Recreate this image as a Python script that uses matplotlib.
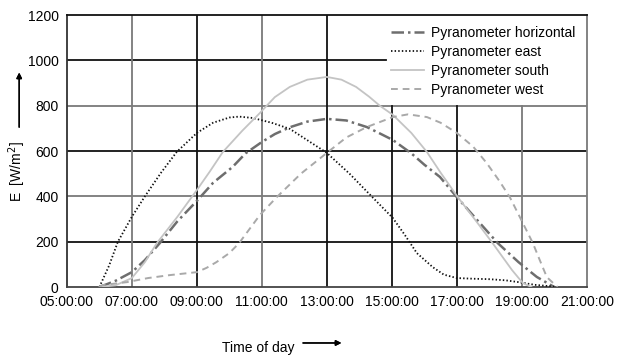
import matplotlib.pyplot as plt
from matplotlib.patches import Rectangle

plt.rcParams['font.family'] = ['Liberation Sans', 'DejaVu Sans']

# czas w godzinach (5 = 05:00:00)
t_hor = [6.0, 6.5, 7.0, 7.4, 7.86, 8.4, 9.0, 9.5, 10.1, 10.5, 11.0, 11.4, 11.86, 12.4,
         13.0, 13.6, 14.23, 14.6, 15.03, 15.6, 16.0, 16.48, 17.0, 17.6, 18.26, 18.9, 19.46, 20.0]
e_hor = [0, 28, 66, 119, 194, 290, 380, 460, 530, 590, 640, 675, 705, 730,
         742, 735, 706, 680, 649, 590, 540, 486, 397, 300, 194, 110, 45, 0]

t_east = [6.0, 6.3, 6.57, 7.0, 7.4, 7.9, 8.38, 9.0, 9.5, 10.0, 10.3, 10.72, 11.3, 11.86,
          12.4, 13.0, 13.7, 14.4, 15.03, 15.4, 15.77, 16.26, 16.6, 17.0, 17.5, 18.0, 18.5,
          18.9, 19.4, 19.95, 20.1]
e_east = [0, 95, 200, 310, 400, 505, 596, 680, 725, 748, 752, 746, 725, 698,
          648, 592, 500, 397, 305, 230, 150, 88, 55, 40, 37, 35, 30,
          22, 10, 3, 0]

t_south = [6.0, 6.5, 7.0, 7.4, 7.77, 8.4, 9.0, 9.4, 9.8, 10.4, 10.94, 11.4, 11.86, 12.4,
           13.0, 13.45, 13.9, 14.3, 14.63, 15.03, 15.6, 16.08, 16.5, 17.03, 17.6, 18.1,
           18.7, 19.03, 19.3]
e_south = [0, 8, 40, 110, 194, 310, 428, 510, 596, 690, 768, 838, 883, 915,
           927, 915, 883, 840, 800, 760, 680, 596, 505, 397, 290, 194,
           75, 18, 0]

t_west = [6.0, 6.1, 6.85, 7.5, 8.17, 9.0, 9.3, 9.6, 10.0, 10.3, 10.94, 11.46, 12.2, 13.0,
          13.6, 14.23, 15.03, 15.5, 16.08, 16.5, 17.0, 17.5, 17.92, 18.3, 18.63, 19.03,
          19.34, 19.55, 19.77, 20.1]
e_west = [0, 9, 22, 40, 53, 66, 85, 110, 150, 194, 318, 397, 500, 592,
          660, 706, 750, 762, 750, 725, 680, 620, 547, 470, 397, 283,
          194, 120, 44, 0]

x_ticks = [5, 7, 9, 11, 13, 15, 17, 19, 21]
x_labels = ['05:00:00', '07:00:00', '09:00:00', '11:00:00', '13:00:00',
            '15:00:00', '17:00:00', '19:00:00', '21:00:00']
y_ticks = [0, 200, 400, 600, 800, 1000, 1200]

fig = plt.figure(figsize=(6.19, 3.58), dpi=100)
ax = fig.add_axes([0.108, 0.198, 0.840, 0.760])
ax.set_xlim(5, 21)
ax.set_ylim(0, 1200)

# siatka - na zmiane czarna i szara jak w skanie
black, grey = '#111111', '#7a7a7a'
hgrid = {200: black, 400: grey, 600: black, 800: grey}
for y, c in hgrid.items():
    ax.axhline(y, color=c, lw=1.3, zorder=1)
ax.axhline(1000, xmax=(14.82 - 5) / 16, color=black, lw=1.3, zorder=1)
vgrid = {7: grey, 9: black, 11: grey, 13: black}
for x, c in vgrid.items():
    ax.axvline(x, color=c, lw=1.3, zorder=1)
for x, c in {15: black, 17: black, 19: grey}.items():
    ax.axvline(x, ymax=800 / 1200, color=c, lw=1.3, zorder=1)

ax.plot(t_hor, e_hor, color='#6e6e6e', lw=1.8, dashes=(5, 1.6, 1, 1.6),
        label='Pyranometer horizontal', zorder=3)
ax.plot(t_east, e_east, color='#111111', lw=1.3, dashes=(0.8, 1.2),
        label='Pyranometer east', zorder=3)
ax.plot(t_south, e_south, color='#c4c4c4', lw=1.3, label='Pyranometer south', zorder=3)
ax.plot(t_west, e_west, color='#a9a9a9', lw=1.4, dashes=(3.5, 2.5),
        label='Pyranometer west', zorder=3)

leg = ax.legend(loc='upper right', frameon=False, fontsize=10, handlelength=2.4,
                handletextpad=0.5, labelspacing=0.35, borderaxespad=0.4,
                bbox_to_anchor=(1.0, 1.0))

for side, c in {'top': black, 'left': '#333333', 'bottom': '#444444', 'right': grey}.items():
    ax.spines[side].set_color(c)
    ax.spines[side].set_linewidth(1.3)

ax.set_xticks(x_ticks)
ax.set_xticklabels(x_labels)
ax.set_yticks(y_ticks)
ax.tick_params(length=0, labelsize=10, pad=6)

fig.text(0.028, 0.52, 'E  [W/m$^2$]', rotation=90, ha='center', va='center', fontsize=10)
fig.text(0.418, 0.028, 'Time of day', ha='center', va='center', fontsize=10)
fig.add_artist(plt.annotate('', xy=(0.031, 0.805), xytext=(0.031, 0.637),
                            xycoords='figure fraction',
                            arrowprops=dict(arrowstyle='-|>', color='black', lw=1,
                                            mutation_scale=8)))
fig.add_artist(plt.annotate('', xy=(0.556, 0.042), xytext=(0.485, 0.042),
                            xycoords='figure fraction',
                            arrowprops=dict(arrowstyle='-|>', color='black', lw=1,
                                            mutation_scale=8)))

plt.savefig('out.png', dpi=100)
